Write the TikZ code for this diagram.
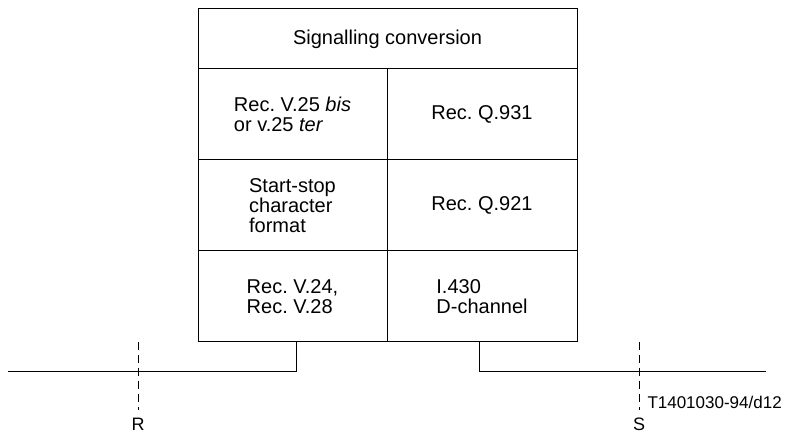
\documentclass[tikz,border=0pt]{standalone}
\usepackage{fontspec}
\setmainfont{Liberation Sans}
\frenchspacing
\begin{document}
\begin{tikzpicture}[x=1pt,y=-1pt,
  line width=1pt,
  cell/.style={draw, inner sep=0pt, font=\fontsize{20}{20}\selectfont, align=left},
  lbl/.style={inner sep=0pt, font=\fontsize{18}{18}\selectfont},
  refdash/.style={dash pattern=on 8pt off 5pt}]
\useasboundingbox (0,0) rectangle (785,435);
% cells
\node[cell, minimum width=379pt, minimum height=60pt] (top) at (387.5,39) {Signalling conversion};
\node[cell, minimum width=189pt, minimum height=91pt] (l2) at (292.5,114.5) {Rec. V.25 \textit{bis}\\or v.25 \textit{ter}};
\node[cell, minimum width=190pt, minimum height=91pt] (r2) at (482,114.5) {Rec. Q.931};
\node[cell, minimum width=189pt, minimum height=91pt] (l3) at (292.5,205.5) {Start-stop\\character\\format};
\node[cell, minimum width=190pt, minimum height=91pt] (r3) at (482,205.5) {Rec. Q.921};
\node[cell, minimum width=189pt, minimum height=91pt] (l4) at (292.5,296.5) {Rec. V.24,\\Rec. V.28};
\node[cell, minimum width=190pt, minimum height=91pt] (r4) at (482,296.5) {I.430\\D-channel};
% connectors
\coordinate (lstub) at (296,342);
\coordinate (lend) at (8,372);
\coordinate (rstub) at (479,342);
\coordinate (rend) at (766,372);
\draw (lstub) |- (lend);
\draw (rstub) |- (rend);
% reference points
\coordinate (rtop) at (138,342);
\coordinate (rbot) at (138,410);
\coordinate (stop) at (639,342);
\coordinate (sbot) at (639,410);
\draw[refdash] (rtop) -- (rbot);
\draw[refdash] (stop) -- (sbot);
\node[lbl] (R) at (138,424) {R};
\node[lbl] (S) at (639,424) {S};
\node[inner sep=0pt, anchor=west, font=\fontsize{17}{17}\selectfont] (code) at (647,402) {T1401030-94/d12};
\end{tikzpicture}
\end{document}
